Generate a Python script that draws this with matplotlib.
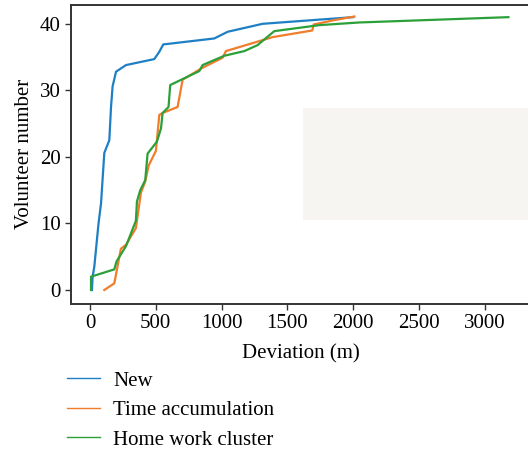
import matplotlib
matplotlib.use("Agg")
import matplotlib.pyplot as plt
from matplotlib.patches import Rectangle

plt.rcParams["font.family"] = ["Liberation Serif", "DejaVu Serif"]

# (deviation in m, volunteer number)
new_x = [15, 20, 33, 65, 84, 109, 147, 160, 172, 198, 274, 489, 527, 557, 945, 1046, 1312, 2000]
new_y = [0, 2, 3.5, 10, 13, 20.6, 22.5, 27.5, 30.6, 32.8, 33.8, 34.7, 35.8, 36.9, 37.8, 38.8, 40, 41]

time_x = [109, 185, 235, 274, 349, 387, 420, 446, 501, 527, 552, 666, 704, 856, 1008, 1033,
          1287, 1388, 1690, 1700, 1869, 2010]
time_y = [0, 1, 6.2, 6.8, 9.3, 14.6, 16.3, 18.7, 20.9, 26.3, 26.6, 27.5, 31.6, 33.4, 34.9, 35.9,
          37.4, 38.0, 39.0, 39.9, 40.6, 41.1]

home_x = [8, 8, 185, 202, 274, 349, 357, 382, 420, 438, 509, 540, 552, 597, 610, 831, 856,
          1021, 1173, 1274, 1401, 1743, 2046, 3180]
home_y = [0, 2, 3.1, 4.3, 6.6, 10.4, 13.3, 15, 16.5, 20.5, 22.3, 24.3, 26.6, 27.5, 30.8, 32.9,
          33.8, 35.2, 35.9, 36.8, 38.9, 39.8, 40.2, 41.0]

labels = ["New", "Time accumulation", "Home work cluster"]
colors = ["#1f7fc4", "#f07d2c", "#2ca038"]

x_ticks = [0, 500, 1000, 1500, 2000, 2500, 3000]
y_ticks = [0, 10, 20, 30, 40]


def main():
    fig = plt.figure(figsize=(5.28, 4.51), dpi=100)
    ax = fig.add_axes([0.135, 0.326, 0.87, 0.664])

    ax.add_patch(Rectangle((0.505, 0.281), 0.5, 0.375, transform=ax.transAxes,
                           facecolor="#f6f5f2", edgecolor="none", zorder=0))

    for xs, ys, lab, col in zip([new_x, time_x, home_x], [new_y, time_y, home_y], labels, colors):
        ax.plot(xs, ys, color=col, lw=1.6, label=lab)

    ax.set_xlim(-142, 3349)
    ax.set_ylim(-2.1, 42.9)
    ax.set_xticks(x_ticks)
    ax.set_yticks(y_ticks)
    ax.tick_params(labelsize=15, length=4.5, width=1, color="#333333", direction="out", pad=3)
    for side in ["left", "bottom", "top"]:
        ax.spines[side].set_linewidth(1.4)
        ax.spines[side].set_color("#333333")
    ax.spines["right"].set_visible(False)

    ax.set_xlabel("Deviation (m)", fontsize=15, labelpad=8)
    ax.set_ylabel("Volunteer number", fontsize=15, labelpad=4)

    handles, labs = ax.get_legend_handles_labels()
    leg = fig.legend(handles, labs, loc="upper left", bbox_to_anchor=(0.127, 0.177),
                     frameon=False, fontsize=15, handlelength=1.6, handletextpad=0.6,
                     labelspacing=0.47, borderaxespad=0, borderpad=0)
    for line in leg.get_lines():
        line.set_linewidth(1.0)

    fig.savefig("out.png", dpi=100)
    plt.close(fig)


if __name__ == "__main__":
    main()
